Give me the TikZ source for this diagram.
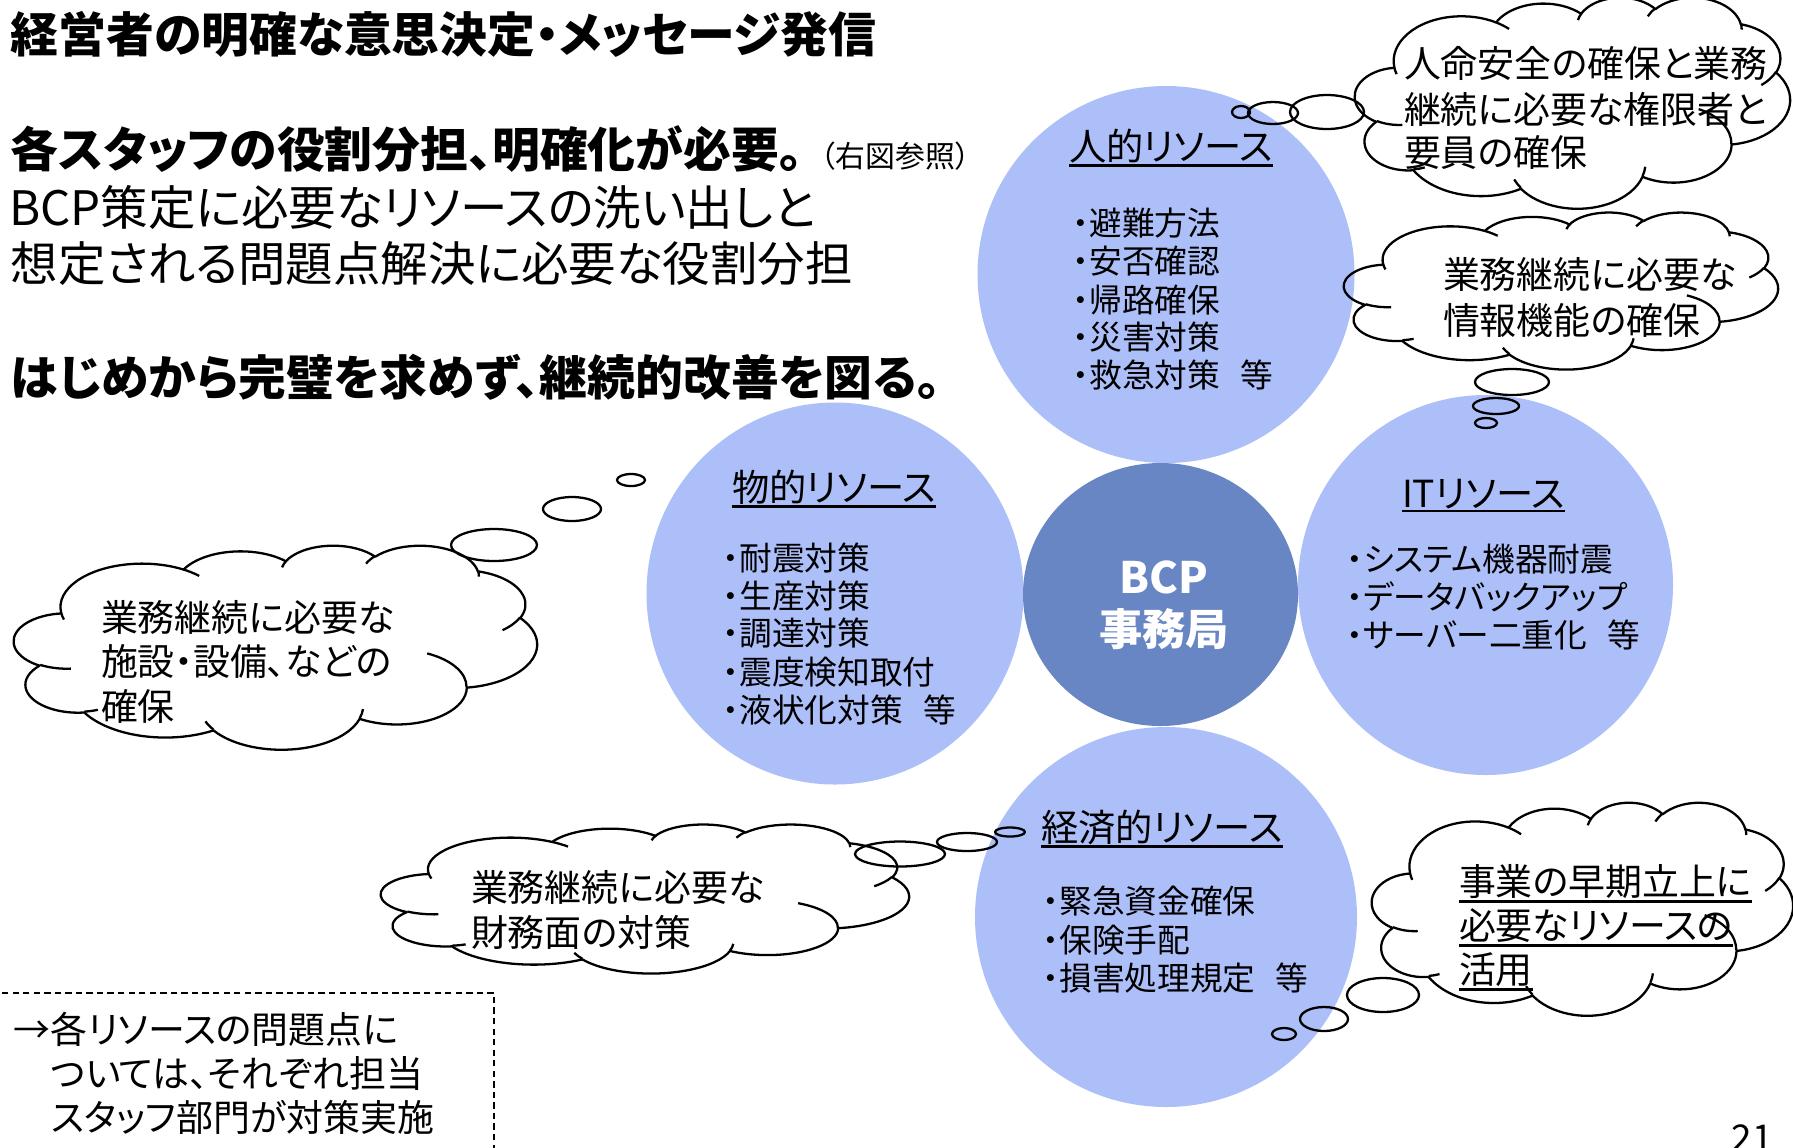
\documentclass[tikz,border=0pt]{standalone}
\usepackage{fontspec}
\setmainfont{Noto Sans CJK JP}[RawFeature=+palt]
\definecolor{lightc}{RGB}{173,191,249}
\definecolor{darkc}{RGB}{104,134,195}
\newcommand\fsz[1]{\fontsize{#1}{#1}\selectfont}
\newcommand\gapr{\hspace{0.62em}}
\pgfmathdeclarefunction{visang}{3}{%
  \begingroup
  \pgfmathparse{(#1)+asin(sin(atan2((#2)*sin(#1),(#3)*cos(#1))-(#1)))}%
  \pgfmathsmuggle\pgfmathresult
  \endgroup}
\tikzset{
  carc/.style n args={4}{insert path={arc[x radius=#1, y radius=#2, start angle={visang(#3,#1,#2)}, end angle={visang(#3+#4,#1,#2)}]}},
  cl/.style={draw=black, line width=0.65pt, line join=round},
  tx/.style={anchor=west, inner sep=0pt, outer sep=0pt},
  bigb/.style={tx, font=\fsz{13.6pt}\bfseries},
  bigr/.style={tx, font=\fsz{13.5pt}},
  ttl/.style={tx, font=\fsz{10.6pt}},
  itm/.style={tx, font=\fsz{9.3pt}},
  ctx/.style={tx, font=\fsz{10.5pt}},
  bcpt/.style={anchor=center, inner sep=0pt, text=white, font=\fsz{12.3pt}\bfseries},
  ul/.style={line width=0.8pt},
  dbox/.style={line width=0.5pt, dash pattern=on 1.8pt off 1.2pt},
}
\newcommand\drawcloud[4]{%
  \begin{scope}[shift={(#1,#2)}, xscale=#3/432, yscale=#4/432]
  \draw[cl] (39.00,143.70)
    [carc={67.53}{91.90}{-190.4875}{123.7805}]
    [carc={53.33}{72.67}{-144.1024}{89.9452}]
    [carc={43.65}{59.45}{-145.8079}{99.7230}]
    [carc={48.57}{65.95}{-130.9861}{117.2417}]
    [carc={53.33}{72.73}{-78.7089}{109.0269}]
    [carc={67.75}{92.20}{-46.2673}{130.2690}]
    [carc={57.85}{78.67}{0.6250}{114.0333}]
    [carc={67.52}{92.15}{22.4516}{115.1726}]
    [carc={77.20}{105.43}{66.2426}{75.7110}]
    [carc={43.60}{59.18}{-274.9421}{146.7356}]
    [carc={43.45}{59.45}{-246.8285}{152.5189}]
    -- cycle;
  \draw[cl]
    (46.93,261.77) [carc={43.45}{59.45}{86.7420}{26.4295}]
    (69.28,348.99) [carc={43.60}{59.18}{73.6105}{11.4475}]
    (164.78,390.90) [carc={67.52}{92.15}{137.6242}{14.0811}]
    (288.27,347.51) [carc={67.52}{92.15}{6.4533}{15.9984}]
    (341.29,229.54) [carc={57.85}{78.67}{-70.2924}{70.9174}]
    (417.98,153.54) [carc={53.33}{72.73}{30.3180}{27.7515}]
    (383.24,54.26) [carc={48.57}{65.95}{-13.7443}{14.8589}]
    (290.78,39.52) [carc={48.57}{65.95}{-149.1815}{18.1954}]
    (221.41,47.20) [carc={43.65}{59.45}{-163.4943}{17.6864}]
    (140.00,51.92) [carc={67.53}{91.90}{-66.7070}{12.3194}]
    (41.27,157.89) [carc={67.53}{91.90}{157.6544}{11.8582}];
  \end{scope}}
\begin{document}
\begin{tikzpicture}[x=0.01cm, y=-0.01cm]
\useasboundingbox (0,0) rectangle (1793,1147);
\clip (0,0) rectangle (1793,1147);
\fill[white] (0,0) rectangle (1793,1147);

% resource circles
\fill[lightc] (1166,274.5) ellipse [x radius=188.5, y radius=188.5];
\fill[lightc] (835,593.5) ellipse [x radius=188.5, y radius=191];
\fill[lightc] (1485.5,585) ellipse [x radius=187.5, y radius=190];
\fill[lightc] (1166,917) ellipse [x radius=191, y radius=190];
\fill[darkc] (1160.5,594.5) ellipse [x radius=137.5, y radius=131.5];

% clouds
\drawcloud{1355}{-3}{435}{211}
\drawcloud{1344}{212}{434}{157}
\drawcloud{14}{545}{523}{204}
\drawcloud{381}{824}{528}{149}
\drawcloud{1372}{802}{421}{213}

% bubbles
\draw[cl] (1241,112) ellipse [x radius=9, y radius=6];
\draw[cl] (1273,113) ellipse [x radius=25, y radius=11];
\draw[cl] (1327,112) ellipse [x radius=37, y radius=17];
\draw[cl] (1512,382) ellipse [x radius=37, y radius=13];
\draw[cl] (1496,406) ellipse [x radius=23, y radius=8];
\draw[cl] (1486,423) ellipse [x radius=11, y radius=5];
\draw[cl] (494,545) ellipse [x radius=43, y radius=16];
\draw[cl] (572,509) ellipse [x radius=29, y radius=12];
\draw[cl] (631,480) ellipse [x radius=14, y radius=6];
\draw[cl] (900,854) ellipse [x radius=45, y radius=12.5];
\draw[cl] (967,842) ellipse [x radius=30, y radius=9];
\draw[cl] (1010,832) ellipse [x radius=15, y radius=4.5];
\draw[cl] (1383,995) ellipse [x radius=36, y radius=17];
\draw[cl] (1324,1019) ellipse [x radius=24, y radius=12];
\draw[cl] (1284,1034) ellipse [x radius=12, y radius=6];

% dashed box
\draw[dbox] (-20,993) rectangle (494,1200);

% left text
\node[bigb] (l1) at (11,34) {経営者の明確な意思決定・メッセージ発信};
\node[bigb] (l2) at (11,149) {各スタッフの役割分担、明確化が必要。\hspace{5pt}{\mdseries\fsz{8.5pt}（右図参照）}};
\node[bigr] (l3) at (9,207) {BCP策定に必要なリソースの洗い出しと};
\node[bigr] (l4) at (11,264) {想定される問題点解決に必要な役割分担};
\node[bigb] (l5) at (11,377) {はじめから完璧を求めず、継続的改善を図る。};

% human resources
\node[ttl] (h0) at (1069,146) {人的リソース};
\draw[ul] ([yshift=-0.6pt]h0.south west) -- ([yshift=-0.6pt]h0.south east);
\node[itm] (h1) at (1073,223) {・避難方法};
\node[itm] (h2) at (1073,261) {・安否確認};
\node[itm] (h3) at (1073,300) {・帰路確保};
\node[itm] (h4) at (1073,337) {・災害対策};
\node[itm] (h5) at (1073,375) {・救急対策\gapr 等};

% physical resources
\node[ttl] (p0) at (732,487) {物的リソース};
\draw[ul] ([yshift=-0.6pt]p0.south west) -- ([yshift=-0.6pt]p0.south east);
\node[itm] (p1) at (723,558) {・耐震対策};
\node[itm] (p2) at (723,596) {・生産対策};
\node[itm] (p3) at (723,633) {・調達対策};
\node[itm] (p4) at (723,672) {・震度検知取付};
\node[itm] (p5) at (723,710) {・液状化対策\gapr 等};

% BCP
\node[bcpt] (b1) at (1164,577) {BCP};
\node[bcpt] (b2) at (1164,629) {事務局};

% IT resources
\node[ttl] (i0) at (1402,494) {ITリソース};
\draw[ul] ([yshift=-0.6pt]i0.south west) -- ([yshift=-0.6pt]i0.south east);
\node[itm] (i1) at (1347,559) {・システム機器耐震};
\node[itm] (i2) at (1347,597) {・データバックアップ};
\node[itm] (i3) at (1347,635) {・サーバー二重化\gapr 等};

% economic resources
\node[ttl] (e0) at (1041,827) {経済的リソース};
\draw[ul] ([yshift=-0.6pt]e0.south west) -- ([yshift=-0.6pt]e0.south east);
\node[itm] (e1) at (1043,901) {・緊急資金確保};
\node[itm] (e2) at (1043,940) {・保険手配};
\node[itm] (e3) at (1043,978) {・損害処理規定\gapr 等};

% cloud texts
\node[ctx] (c1a) at (1404,63) {人命安全の確保と業務};
\node[ctx] (c1b) at (1404,109) {継続に必要な権限者と};
\node[ctx] (c1c) at (1404,152) {要員の確保};
\node[ctx] (c2a) at (1443,274) {業務継続に必要な};
\node[ctx] (c2b) at (1443,320) {情報機能の確保};
\node[ctx] (c3a) at (101,617) {業務継続に必要な};
\node[ctx] (c3b) at (101,661) {施設・設備、などの};
\node[ctx] (c3c) at (101,706) {確保};
\node[ctx] (c4a) at (471,887) {業務継続に必要な};
\node[ctx] (c4b) at (471,932) {財務面の対策};
\node[ctx] (c5a) at (1459,882) {事業の早期立上に};
\node[ctx] (c5b) at (1459,926) {必要なリソースの};
\node[ctx] (c5c) at (1459,970) {活用};
\foreach \n in {c5a,c5b,c5c}
  \draw[ul] ([yshift=-0.6pt]\n.south west) -- ([yshift=-0.6pt]\n.south east);

% dashed box text
\node[ctx] (d1) at (14,1029) {→各リソースの問題点に};
\node[ctx] (d2) at (51,1073) {ついては、それぞれ担当};
\node[ctx] (d3) at (51,1117) {スタッフ部門が対策実施};

% page number
\node[anchor=north west, inner sep=0pt, font=\fsz{10.5pt}] (pg) at (1731,1124) {21};
\end{tikzpicture}
\end{document}
